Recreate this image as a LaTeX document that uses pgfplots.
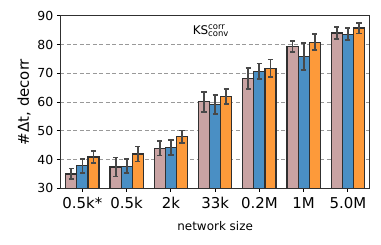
\documentclass[border=0pt]{standalone}
\usepackage{fontspec}
\setmainfont{DejaVu Sans}
\usepackage{pgfplots}
\pgfplotsset{compat=1.18}
\usepackage{pgfplotstable}
\definecolor{cpink}{HTML}{C9A3A3}
\definecolor{cblue}{HTML}{4A8FC4}
\definecolor{corange}{HTML}{FD9A3A}
\definecolor{cedge}{HTML}{303030}
\definecolor{cerr}{HTML}{484848}
\pgfplotstableread{
x y e
0 35.0 1.85
1 37.4 3.3
2 43.9 2.5
3 60.1 3.5
4 68.2 3.6
5 79.3 1.85
6 84.0 2.0
}\tpink
\pgfplotstableread{
x y e
0 37.8 2.5
1 37.7 2.5
2 44.2 2.5
3 59.2 3.3
4 70.7 2.7
5 75.8 4.6
6 83.6 2.0
}\tblue
\pgfplotstableread{
x y e
0 40.9 2.0
1 41.9 2.6
2 47.9 2.2
3 61.8 2.6
4 71.7 3.1
5 80.8 2.8
6 85.7 1.9
}\torange
\begin{document}
\begin{tikzpicture}[x=1bp,y=1bp]
\begin{axis}[
  name=ax,
  scale only axis,
  width=309.7bp, height=172.6bp,
  xmin=-0.5, xmax=6.5, ymin=30, ymax=90,
  ytick={30,40,...,90},
  xtick={0,...,6},
  xticklabels={0.5k*,0.5k,2k,33k,0.2M,1M,5.0M},
  ymajorgrids,
  grid style={gray!80, line width=0.9bp, dash pattern=on 4bp off 2.5bp},
  axis line style={cedge, line width=1bp},
  tick style={black, line width=0.9bp},
  tick align=outside,
  major tick length=3.5bp,
  xtick pos=bottom, ytick pos=left,
  /pgf/number format/assume math mode=true,
  yticklabel style={font=\fontsize{12.5}{12.5}\selectfont},
  xticklabel style={font=\fontsize{15}{15}\selectfont, yshift=-2bp},
  xlabel={network size},
  xlabel style={font=\fontsize{12}{12}\selectfont, yshift=-6bp},
  ylabel={\#Δt, decorr},
  ylabel style={font=\fontsize{15}{15}\selectfont},
  ybar, bar width=0.25,
  every axis plot/.append style={draw=cedge, line width=1.2bp},
  error bars/y dir=both, error bars/y explicit,
  error bars/error bar style={cerr, line width=1.8bp},
  error bars/error mark options={rotate=90, mark size=2.6bp, line width=1.8bp, cerr},
]
\addplot[fill=cpink, draw=cedge, bar shift=-0.25] table[x=x,y=y,y error=e]{\tpink};
\addplot[fill=cblue, draw=cedge, bar shift=0] table[x=x,y=y,y error=e]{\tblue};
\addplot[fill=corange, draw=cedge, bar shift=0.25] table[x=x,y=y,y error=e]{\torange};
\node[anchor=base west, font=\fontsize{12}{12}\selectfont, inner sep=0pt] at (axis cs:2.49,83.5) {KS\fontsize{8.5}{8.5}\selectfont\rlap{\raisebox{4.8bp}[5bp][0pt]{corr}}\raisebox{-2.6bp}[3bp][0pt]{conv}};
\end{axis}
\pgfresetboundingbox
\path[use as bounding box] ([xshift=-60.3bp,yshift=-56.7bp]ax.south west) rectangle ([xshift=320.7bp,yshift=188.3bp]ax.south west);
\end{tikzpicture}
\end{document}
